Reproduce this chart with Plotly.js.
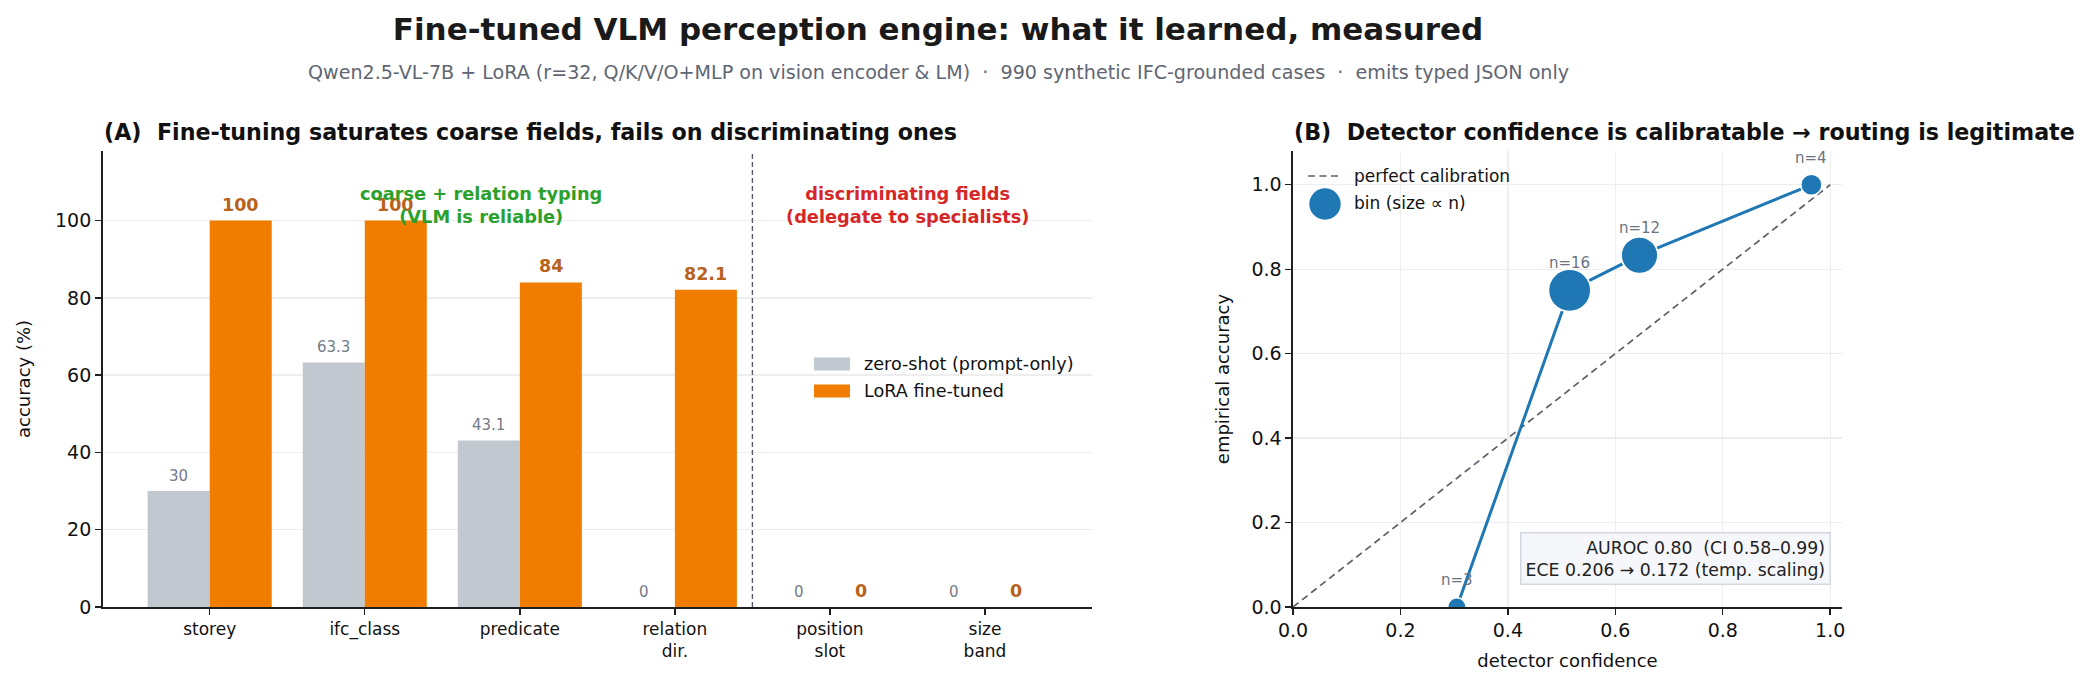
<!DOCTYPE html>
<html>
<head>
<meta charset="utf-8">
<script src="https://cdn.plot.ly/plotly-3.0.1.min.js"></script>
<style>
  html, body { margin: 0; padding: 0; background: #ffffff; }
  #chart { width: 2093px; height: 687px; }
</style>
</head>
<body>
<div id="chart"></div>
<script>
// ---- Panel A: per-field accuracy, zero-shot vs LoRA fine-tuned ----
const fields = ['storey', 'ifc_class', 'predicate', 'relation<br>dir.', 'position<br>slot', 'size<br>band'];
const zeroShot = [30, 63.3, 43.1, 0, 0, 0];
const loraTuned = [100, 100, 84, 82.1, 0, 0];
const coarseFieldCount = 4;   // first four fields are coarse / relation typing
const seriesNames = ['zero-shot (prompt-only)', 'LoRA fine-tuned'];

// ---- Panel B: reliability diagram of detector confidence ----
const binConfidence = [0.305, 0.515, 0.645, 0.965];
const binAccuracy = [0.0, 0.75, 0.833, 1.0];
const binCount = [3, 16, 12, 4];
const diagonal = [0, 1];
const calibNames = ['perfect calibration', 'bin (size ∝ n)'];
const aurocText = 'AUROC 0.80\u00a0 (CI 0.58–0.99)';
const eceText = 'ECE 0.206 → 0.172 (temp. scaling)';

const W = 2093, H = 687;
const px = v => v / W;          // pixel column -> paper x
const py = v => 1 - v / H;      // pixel row -> paper y

const FONT = 'DejaVu Sans, Verdana, sans-serif';
const C_ZERO = '#c1c8cf';
const C_LORA = '#f07d00';
const C_ZERO_TXT = '#737b87';
const C_LORA_TXT = '#b8621c';
const C_BLUE = '#1f77b4';
const C_DIAG = '#5b616b';
const C_AXIS = '#1f1f1f';
const barWidth = 0.4;
const DIAG_DASH = '7px,4.5px';

const traces = [
  {
    type: 'bar', name: seriesNames[0], x: fields, y: zeroShot, showlegend: false,
    marker: { color: C_ZERO }, xaxis: 'x', yaxis: 'y', hoverinfo: 'skip'
  },
  {
    type: 'bar', name: seriesNames[1], x: fields, y: loraTuned, showlegend: false,
    marker: { color: C_LORA }, xaxis: 'x', yaxis: 'y', hoverinfo: 'skip'
  },
  {
    type: 'scatter', mode: 'lines', name: calibNames[0], x: diagonal, y: diagonal, showlegend: false,
    line: { color: C_DIAG, width: 1.7, dash: DIAG_DASH },
    xaxis: 'x2', yaxis: 'y2', hoverinfo: 'skip'
  },
  {
    type: 'scatter', mode: 'lines', showlegend: false, x: binConfidence, y: binAccuracy,
    line: { color: C_BLUE, width: 3 }, xaxis: 'x2', yaxis: 'y2', hoverinfo: 'skip'
  },
  {
    type: 'scatter', mode: 'markers', name: calibNames[1], x: binConfidence, y: binAccuracy, showlegend: false,
    marker: {
      color: C_BLUE, opacity: 1, size: binCount.map(n => 10.6 * Math.sqrt(n)), sizemode: 'diameter',
      line: { color: '#ffffff', width: 1.6 }
    },
    xaxis: 'x2', yaxis: 'y2', hoverinfo: 'skip'
  }
];

const annotations = [];
const shapes = [];

// value labels above each bar
fields.forEach((f, i) => {
  annotations.push({
    xref: 'x', yref: 'y', x: i - barWidth / 2, y: zeroShot[i], text: String(zeroShot[i]),
    showarrow: false, yanchor: 'bottom', yshift: 4,
    font: { family: FONT, size: 15, color: C_ZERO_TXT }
  });
  annotations.push({
    xref: 'x', yref: 'y', x: i + barWidth / 2, y: loraTuned[i], text: String(loraTuned[i]),
    showarrow: false, yanchor: 'bottom', yshift: 4,
    font: { family: FONT, size: 17.5, color: C_LORA_TXT, weight: 'bold' }
  });
});

// group captions on either side of the split
annotations.push({
  xref: 'x', yref: 'y', x: 1.75, y: 104, text: 'coarse + relation typing<br>(VLM is reliable)',
  showarrow: false, yanchor: 'middle', align: 'center',
  font: { family: FONT, size: 17.8, color: '#2ca02c', weight: 'bold' }
});
annotations.push({
  xref: 'x', yref: 'y', x: 4.5, y: 104,
  text: 'discriminating fields<br>(delegate to specialists)',
  showarrow: false, yanchor: 'middle', align: 'center',
  font: { family: FONT, size: 17.8, color: '#d62728', weight: 'bold' }
});

// bin counts above each calibration point
binCount.forEach((n, i) => {
  annotations.push({
    xref: 'x2', yref: 'y2', x: binConfidence[i], y: binAccuracy[i], text: 'n=' + n,
    showarrow: false, yanchor: 'bottom', yshift: 16,
    font: { family: FONT, size: 15, color: '#6b7280' }
  });
});

// metrics box
annotations.push({
  xref: 'paper', yref: 'paper', x: px(1831), y: py(585), xanchor: 'right', yanchor: 'bottom',
  text: aurocText + '<br>' + eceText, align: 'right', showarrow: false,
  bgcolor: '#f6f7fb', bordercolor: '#d3d8e0', borderwidth: 1.5, borderpad: 4,
  font: { family: FONT, size: 17.3, color: '#222222' }
});

// panel titles and subtitle
annotations.push({
  xref: 'paper', yref: 'paper', x: px(102), y: py(132), xanchor: 'left', yanchor: 'middle',
  text: '(A)\u00a0 Fine-tuning saturates coarse fields, fails on discriminating ones', showarrow: false,
  font: { family: FONT, size: 22.2, color: '#111111', weight: 'bold' }
});
annotations.push({
  xref: 'paper', yref: 'paper', x: px(1292), y: py(132), xanchor: 'left', yanchor: 'middle',
  text: '(B)\u00a0 Detector confidence is calibratable → routing is legitimate', showarrow: false,
  font: { family: FONT, size: 22.2, color: '#111111', weight: 'bold' }
});
annotations.push({
  xref: 'paper', yref: 'paper', x: px(938), y: py(73), xanchor: 'center', yanchor: 'middle',
  text: 'Qwen2.5-VL-7B + LoRA (r=32, Q/K/V/O+MLP on vision encoder & LM)\u00a0 ·\u00a0 990 synthetic IFC-grounded cases\u00a0 ·\u00a0 emits typed JSON only',
  showarrow: false, font: { family: FONT, size: 19.1, color: '#5f6673' }
});

// split between coarse and discriminating fields
shapes.push({
  type: 'line', xref: 'x', yref: 'y domain', x0: coarseFieldCount - 0.5, x1: coarseFieldCount - 0.5, y0: 0, y1: 1,
  line: { color: '#555b66', width: 1.4, dash: '5px,3px' }
});

// legend keys, panel A
[C_ZERO, C_LORA].forEach((c, k) => {
  const cy = 364 + 27 * k;
  shapes.push({
    type: 'rect', xref: 'paper', yref: 'paper', x0: px(814), x1: px(850), y0: py(cy + 6.5), y1: py(cy - 6.5),
    fillcolor: c, line: { width: 0 }
  });
  annotations.push({
    xref: 'paper', yref: 'paper', x: px(862), y: py(cy), xanchor: 'left', yanchor: 'middle',
    text: seriesNames[k], showarrow: false, font: { family: FONT, size: 17.6, color: '#111111' }
  });
});

// legend keys, panel B
shapes.push({
  type: 'line', xref: 'paper', yref: 'paper', x0: px(1308), x1: px(1340), y0: py(176), y1: py(176),
  line: { color: C_DIAG, width: 1.7, dash: DIAG_DASH }
});
shapes.push({
  type: 'circle', xref: 'paper', yref: 'paper', xsizemode: 'pixel', ysizemode: 'pixel',
  xanchor: px(1325), yanchor: py(204), x0: -16.5, x1: 16.5, y0: -16.5, y1: 16.5,
  fillcolor: C_BLUE, line: { color: '#ffffff', width: 1.6 }
});
calibNames.forEach((t, k) => {
  annotations.push({
    xref: 'paper', yref: 'paper', x: px(1352), y: py(176 + 27 * k), xanchor: 'left', yanchor: 'middle',
    text: t, showarrow: false, font: { family: FONT, size: 17, color: '#111111' }
  });
});

const axisCommon = {
  showline: true, linecolor: C_AXIS, linewidth: 1.6,
  ticks: 'outside', ticklen: 6, tickwidth: 1.4, tickcolor: C_AXIS,
  zeroline: false, mirror: false
};

const domY = [py(607), py(151)];

const layout = {
  width: W, height: H,
  margin: { l: 0, r: 0, t: 0, b: 0 },
  paper_bgcolor: '#ffffff', plot_bgcolor: '#ffffff',
  font: { family: FONT, color: '#111111' },
  showlegend: false,
  title: {
    text: 'Fine-tuned VLM perception engine: what it learned, measured',
    x: px(938), xanchor: 'center', y: py(29), yanchor: 'middle',
    font: { family: FONT, size: 31, color: '#1a1a1a', weight: 'bold' }
  },
  barmode: 'group', bargap: 0.2, bargroupgap: 0,
  xaxis: Object.assign({}, axisCommon, {
    domain: [px(102.7), px(1092)], type: 'category', range: [-0.69, 5.69],
    showgrid: false, tickfont: { family: FONT, size: 17, color: '#111111' }, anchor: 'y'
  }),
  yaxis: Object.assign({}, axisCommon, {
    domain: domY, range: [0, 118], tickvals: [0, 20, 40, 60, 80, 100],
    showgrid: true, gridcolor: '#eeeeee', gridwidth: 1.3,
    tickfont: { family: FONT, size: 19, color: '#111111' }, anchor: 'x',
    title: { text: 'accuracy (%)', font: { family: FONT, size: 18, color: '#111111' }, standoff: 20 }
  }),
  xaxis2: Object.assign({}, axisCommon, {
    domain: [px(1293), px(1842)], range: [0, 1.022], tickvals: [0, 0.2, 0.4, 0.6, 0.8, 1.0],
    tickformat: '.1f', showgrid: true, gridcolor: '#eeeeee', gridwidth: 1.3,
    tickfont: { family: FONT, size: 19, color: '#111111' }, anchor: 'y2',
    title: { text: 'detector confidence', font: { family: FONT, size: 18, color: '#111111' }, standoff: 14 }
  }),
  yaxis2: Object.assign({}, axisCommon, {
    domain: domY, range: [0, 1.08], tickvals: [0, 0.2, 0.4, 0.6, 0.8, 1.0],
    tickformat: '.1f', showgrid: true, gridcolor: '#eeeeee', gridwidth: 1.3,
    tickfont: { family: FONT, size: 19, color: '#111111' }, anchor: 'x2',
    title: { text: 'empirical accuracy', font: { family: FONT, size: 18, color: '#111111' }, standoff: 17 }
  }),
  annotations: annotations,
  shapes: shapes,
  hovermode: false
};

Plotly.newPlot('chart', traces, layout, { displayModeBar: false, staticPlot: true });
</script>
</body>
</html>
